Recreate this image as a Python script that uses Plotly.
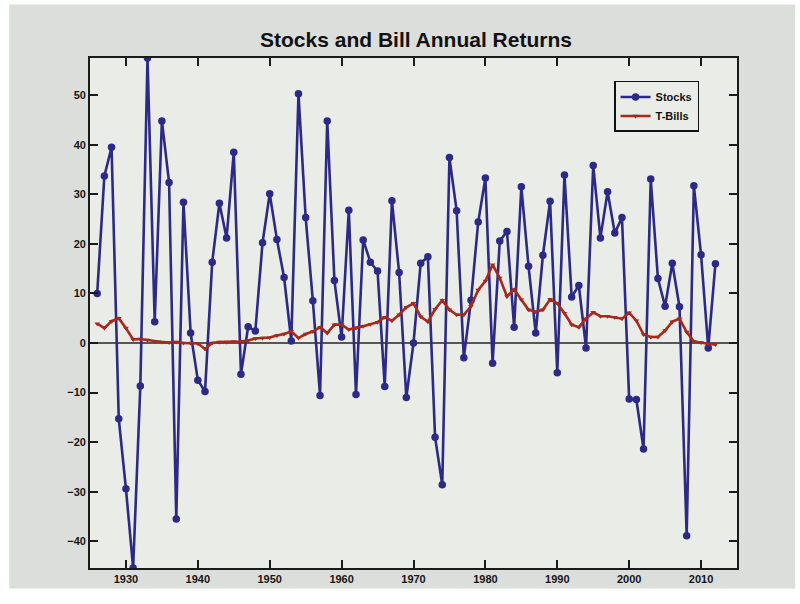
import plotly.graph_objects as go

# Annual returns (%), 1926-2012
years = list(range(1926, 2013))

stocks = [
    10.0, 33.7, 39.5, -15.3, -29.4, -45.4, -8.7, 57.5, 4.3, 44.8,
    32.4, -35.5, 28.4, 2.0, -7.5, -9.8, 16.3, 28.2, 21.2, 38.5,
    -6.3, 3.3, 2.4, 20.2, 30.1, 20.9, 13.2, 0.4, 50.3, 25.3,
    8.5, -10.6, 44.8, 12.6, 1.2, 26.8, -10.4, 20.8, 16.3, 14.5,
    -8.8, 28.7, 14.2, -11.0, 0.0, 16.1, 17.4, -19.0, -28.6, 37.4,
    26.7, -3.0, 8.6, 24.4, 33.3, -4.1, 20.6, 22.5, 3.2, 31.5,
    15.5, 2.0, 17.7, 28.6, -6.0, 33.9, 9.3, 11.6, -1.0, 35.8,
    21.2, 30.5, 22.2, 25.3, -11.3, -11.4, -21.4, 33.1, 13.0, 7.4,
    16.1, 7.3, -38.9, 31.7, 17.8, -1.0, 16.0,
]

tbills = [
    3.9, 3.0, 4.4, 5.0, 3.0, 0.7, 0.8, 0.6, 0.3, 0.2,
    0.1, 0.2, 0.0, 0.0, -0.1, -1.2, 0.0, 0.2, 0.2, 0.3,
    0.3, 0.5, 0.9, 1.0, 1.1, 1.5, 1.8, 2.3, 1.0, 1.8,
    2.3, 3.2, 2.0, 3.7, 3.7, 2.7, 3.0, 3.4, 3.8, 4.2,
    5.2, 4.5, 5.7, 7.2, 8.0, 5.3, 4.3, 6.8, 8.6, 6.7,
    5.7, 5.7, 7.4, 10.7, 12.5, 15.8, 13.1, 9.4, 10.8, 8.7,
    6.7, 6.3, 6.7, 8.8, 8.0, 6.0, 3.7, 3.2, 4.9, 6.2,
    5.4, 5.4, 5.2, 4.9, 6.1, 4.5, 1.7, 1.2, 1.2, 2.5,
    4.3, 4.9, 2.2, 0.3, 0.1, -0.2, -0.3,
]

x_ticks = list(range(1930, 2011, 10))
y_ticks = list(range(-40, 51, 10))

STOCK_COLOR = "#2c2a86"
BILL_COLOR = "#a8281c"
FONT_FAMILY = "Liberation Sans, Arial, sans-serif"
AXIS_FONT = dict(family=FONT_FAMILY, size=11, color="#151515", weight="bold")

fig = go.Figure()

fig.add_trace(go.Scatter(
    x=years, y=stocks, name="Stocks", mode="lines+markers",
    line=dict(color=STOCK_COLOR, width=2.6),
    marker=dict(symbol="circle", size=7.5, color=STOCK_COLOR),
))
fig.add_trace(go.Scatter(
    x=years, y=tbills, name="T-Bills", mode="lines+markers",
    line=dict(color=BILL_COLOR, width=2.6),
    marker=dict(symbol="triangle-down", size=5, color=BILL_COLOR),
))

# horizontal zero reference across the full x range
fig.add_shape(type="line", xref="x", yref="y", x0=1925, x1=2015, y0=0, y1=0,
              line=dict(color="#262626", width=1.5), layer="below")

# light grey screen surround and the plotting panel
fig.add_shape(type="rect", xref="paper", yref="paper",
              x0=-0.125, x1=1.09, y0=-0.04, y1=1.105,
              fillcolor="#dcdedb", line=dict(width=0), layer="below")
fig.add_shape(type="rect", xref="paper", yref="paper",
              x0=0, x1=1, y0=0, y1=1,
              fillcolor="#eaece8", line=dict(width=0), layer="below")

fig.update_layout(
    width=800, height=604,
    margin=dict(l=90, r=63, t=58, b=36),
    paper_bgcolor="white",
    plot_bgcolor="rgba(0,0,0,0)",
    title=dict(text="Stocks and Bill Annual Returns", x=0.52, xanchor="center",
               y=0.935, yanchor="middle",
               font=dict(family=FONT_FAMILY, size=21, color="#111111", weight="bold")),
    showlegend=True,
    legend=dict(x=0.81, y=0.955, xanchor="left", yanchor="top",
                bgcolor="#eaece8", bordercolor="#111111", borderwidth=1.5,
                font=dict(family=FONT_FAMILY, size=11, color="#111111", weight="bold"),
                tracegroupgap=0, itemwidth=30),
    xaxis=dict(range=[1925, 2015], tickvals=x_ticks, ticks="inside", ticklen=8,
               tickwidth=1.5, tickcolor="#1a1a1a", showline=True, linecolor="#1a1a1a",
               linewidth=1.8, mirror="ticks", showgrid=False, zeroline=False,
               tickfont=AXIS_FONT),
    yaxis=dict(range=[min(stocks), max(stocks)], tickvals=y_ticks, ticks="inside",
               ticklen=8, tickwidth=1.5, tickcolor="#1a1a1a", showline=True,
               linecolor="#1a1a1a", linewidth=1.8, mirror="ticks", showgrid=False,
               zeroline=False, tickfont=AXIS_FONT),
)

fig.write_html("out.html")
